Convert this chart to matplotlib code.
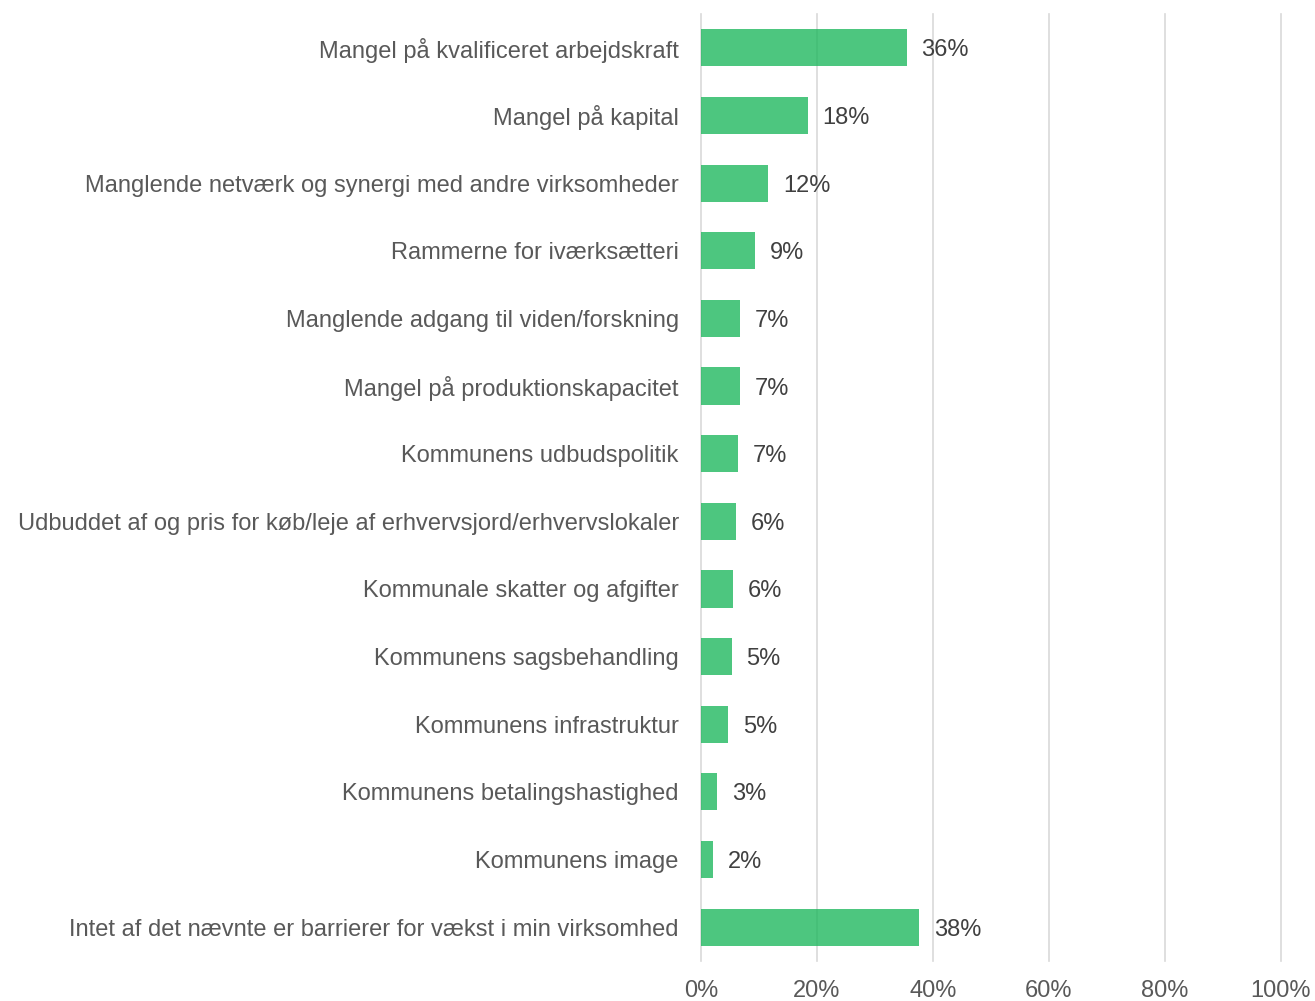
import numpy as np
import matplotlib.pyplot as plt
from matplotlib.ticker import FuncFormatter

plt.rcParams['font.family'] = ['Liberation Sans', 'DejaVu Sans']

categories = [
    "Mangel på kvalificeret arbejdskraft",
    "Mangel på kapital",
    "Manglende netværk og synergi med andre virksomheder",
    "Rammerne for iværksætteri",
    "Manglende adgang til viden/forskning",
    "Mangel på produktionskapacitet",
    "Kommunens udbudspolitik",
    "Udbuddet af og pris for køb/leje af erhvervsjord/erhvervslokaler",
    "Kommunale skatter og afgifter",
    "Kommunens sagsbehandling",
    "Kommunens infrastruktur",
    "Kommunens betalingshastighed",
    "Kommunens image",
    "Intet af det nævnte er barrierer for vækst i min virksomhed",
]
values = [35.5, 18.4, 11.6, 9.3, 6.8, 6.7, 6.4, 6.0, 5.6, 5.3, 4.7, 2.8, 2.1, 37.6]
labels = ["36%", "18%", "12%", "9%", "7%", "7%", "7%", "6%", "6%", "5%", "5%", "3%", "2%", "38%"]

text_col = "#595959"

fig = plt.figure(figsize=(13.15, 10.01), dpi=100)
ax = fig.add_axes([701/1315, 1 - 961/1001, 580/1315, 947/1001])

y = np.arange(len(categories))
ax.set_axisbelow(True)
ax.grid(axis="x", color="#d9d9d9", linewidth=1.2)
for gl in ax.get_xgridlines():
    gl.set_clip_on(False)
ax.barh(y, values, height=0.55, color="#20b85f", alpha=0.8, zorder=3)

for yi, v, lab in zip(y, values, labels):
    ax.text(v + 2.5, yi, lab, va="center_baseline", ha="left", fontsize=17, color="#404040")

ax.set_xlim(0, 100)
ax.set_ylim(len(categories) - 0.5, -0.5)
ax.set_xticks(np.arange(0, 101, 20))
ax.xaxis.set_major_formatter(FuncFormatter(lambda v, p: f"{int(v)}%"))
ax.set_yticks(y)
ax.set_yticklabels(categories)
ax.tick_params(axis="both", length=0, labelsize=17, labelcolor=text_col)
ax.tick_params(axis="y", pad=16)
ax.tick_params(axis="x", pad=14)
for s in ax.spines.values():
    s.set_visible(False)

plt.savefig("out.png", dpi=100)
